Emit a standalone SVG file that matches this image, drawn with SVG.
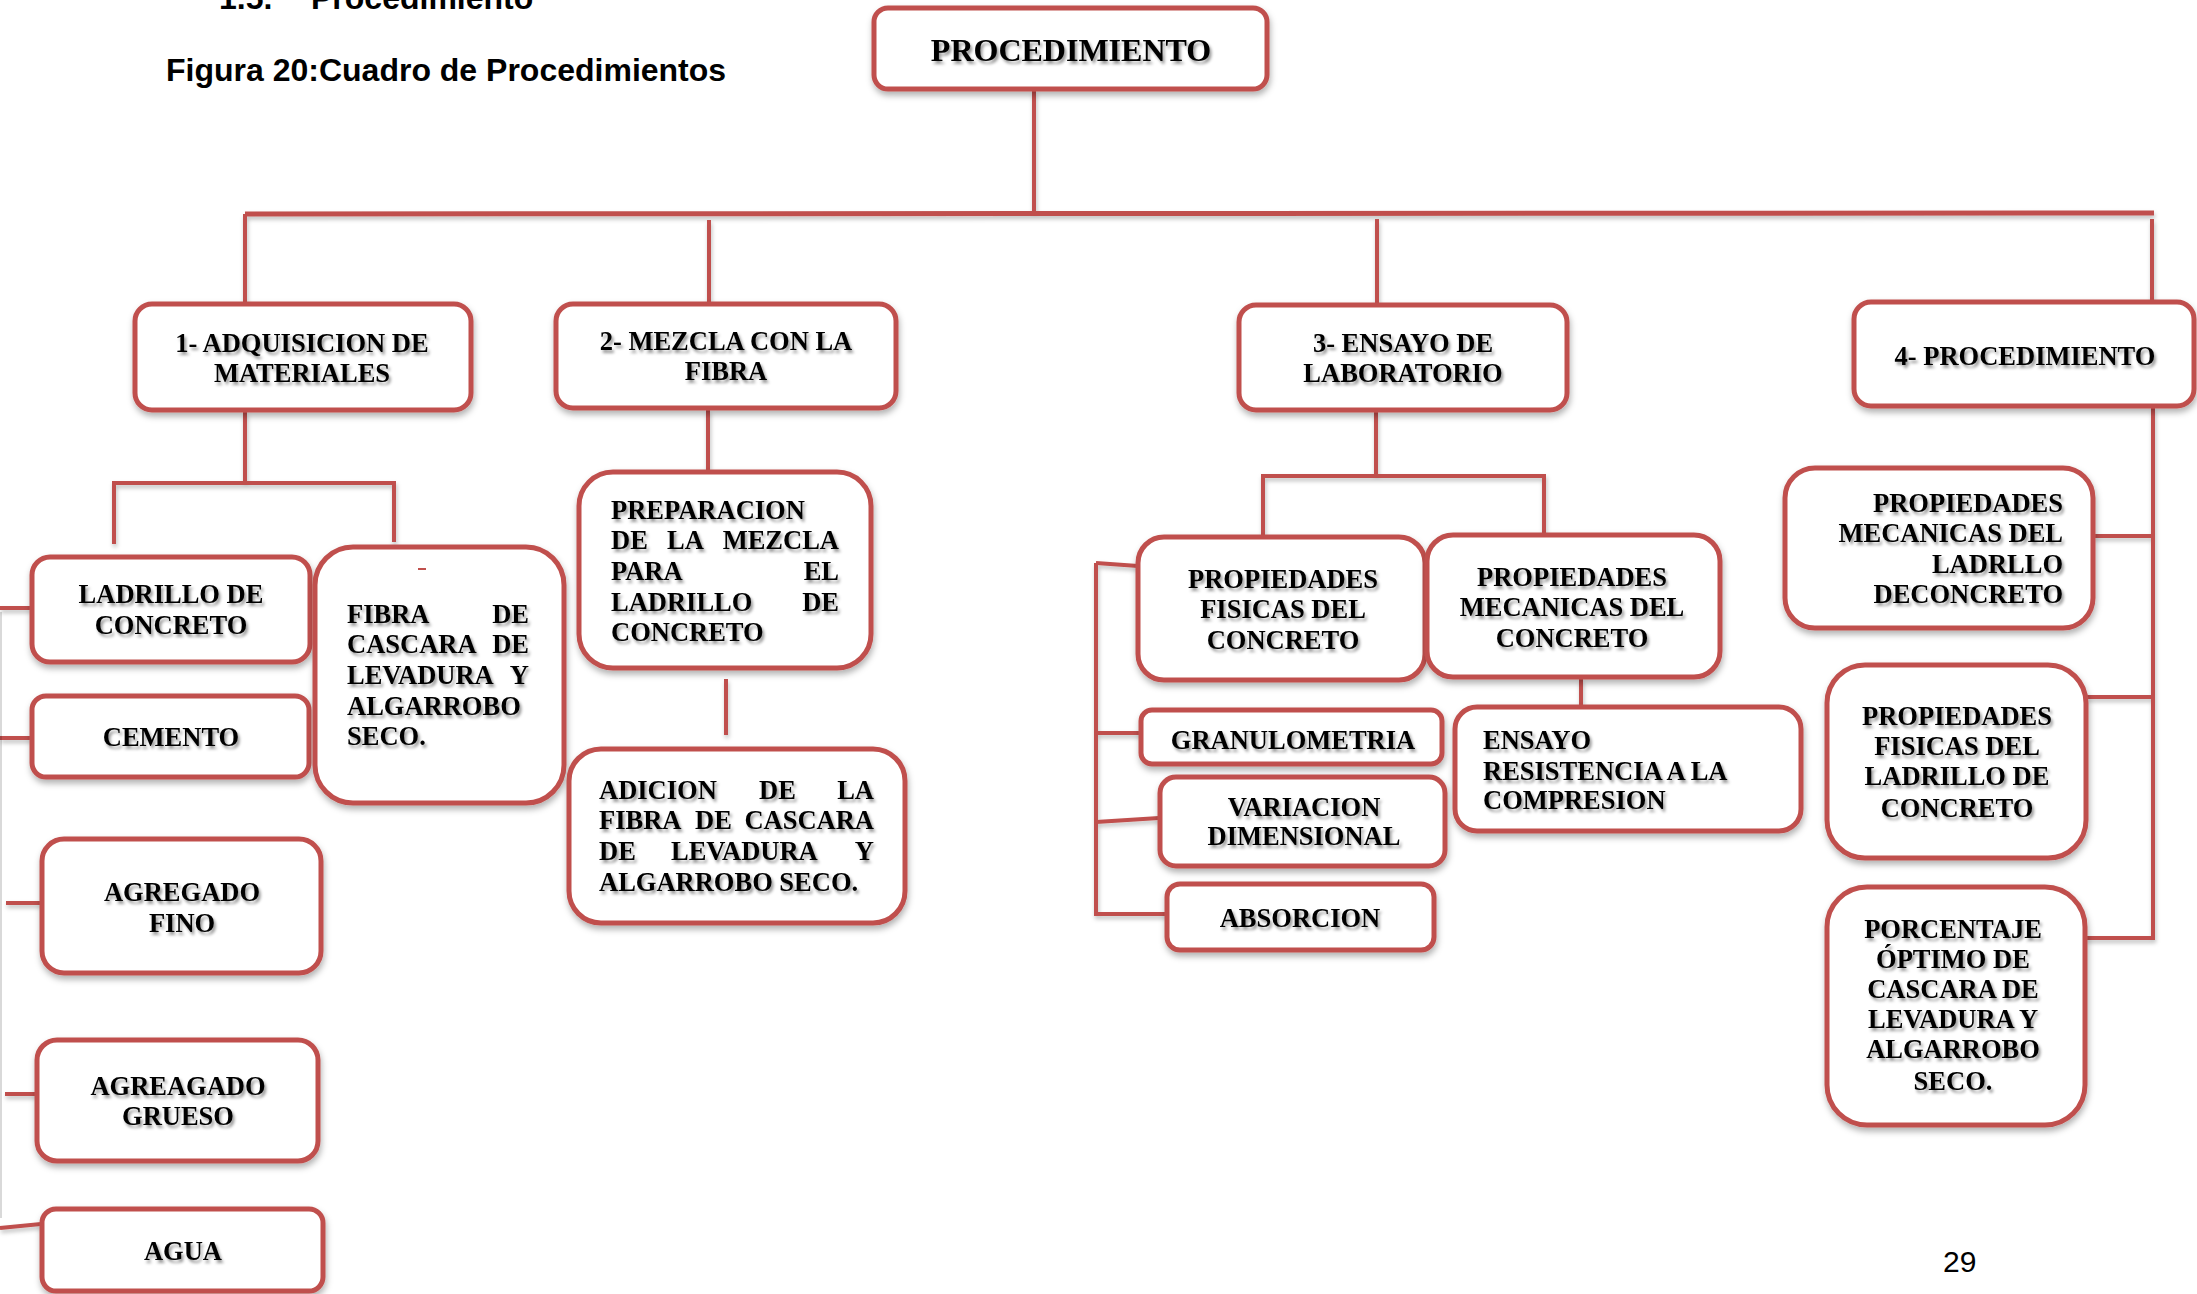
<svg xmlns="http://www.w3.org/2000/svg" width="2197" height="1294" viewBox="0 0 2197 1294">
<defs>
<filter id="bsh" x="-10%" y="-10%" width="130%" height="140%"><feDropShadow dx="1" dy="4" stdDeviation="3" flood-color="#000" flood-opacity="0.3"/></filter>
<filter id="lsh" x="-20%" y="-20%" width="140%" height="140%"><feDropShadow dx="1" dy="3" stdDeviation="2" flood-color="#000" flood-opacity="0.25"/></filter>
<filter id="tsh" x="-10%" y="-20%" width="130%" height="160%"><feDropShadow dx="2" dy="3" stdDeviation="1.6" flood-color="#000" flood-opacity="0.4"/></filter>
</defs>
<style>
.box{fill:#fff;stroke:#C0504D;stroke-width:5;filter:url(#bsh)}
.t{font-family:"Liberation Serif","Times New Roman",serif;font-weight:bold;font-size:26.5px;fill:#000;filter:url(#tsh)}
.c{text-anchor:middle}
.e{text-anchor:end}
.con line,.con polyline{stroke:#C0504D;stroke-width:4;fill:none}
.hd{font-family:"Liberation Sans",Arial,sans-serif;font-weight:bold;font-size:32px;fill:#000}
</style>
<rect width="2197" height="1294" fill="#fff"/>
<text class="hd" x="219" y="9">1.5.</text>
<text class="hd" x="311" y="9">Procedimiento</text>
<text class="hd" x="166" y="81">Figura 20:Cuadro de Procedimientos</text>
<text x="1943" y="1272" style="font-family:'Liberation Sans',Arial,sans-serif;font-size:30px;fill:#000">29</text>

<g id="connectors" class="con" filter="url(#lsh)">
<line x1="1034" y1="91" x2="1034" y2="215"/>
<line x1="245" y1="214" x2="2154" y2="213" style="stroke-width:5"/>
<line x1="245" y1="214" x2="245" y2="302"/>
<line x1="709" y1="220" x2="709" y2="302"/>
<line x1="1377" y1="219" x2="1377" y2="303"/>
<line x1="2152" y1="219" x2="2152" y2="300"/>
<line x1="245" y1="412" x2="245" y2="483"/>
<polyline points="114,544 114,483 394,483 394,542"/>
<line x1="0" y1="608" x2="31" y2="608"/>
<line x1="0" y1="738" x2="31" y2="738"/>
<line x1="6" y1="903" x2="41" y2="903"/>
<line x1="5" y1="1094" x2="36" y2="1094"/>
<line x1="0" y1="1228" x2="41" y2="1224"/>
<line x1="708" y1="410" x2="708" y2="470"/>
<line x1="726" y1="679" x2="726" y2="735"/>
<line x1="1376" y1="412" x2="1376" y2="476"/>
<polyline points="1263,535 1263,476 1544,476 1544,534"/>
<line x1="1096" y1="563" x2="1096" y2="916"/>
<line x1="1096" y1="563" x2="1138" y2="566"/>
<line x1="1096" y1="733" x2="1150" y2="733"/>
<line x1="1096" y1="822" x2="1159" y2="818"/>
<line x1="1096" y1="914" x2="1167" y2="914"/>
<line x1="1581" y1="679" x2="1581" y2="707"/>
<line x1="2153" y1="408" x2="2153" y2="940"/>
<line x1="2093" y1="536" x2="2153" y2="536"/>
<line x1="2086" y1="697" x2="2153" y2="697"/>
<line x1="2085" y1="938" x2="2153" y2="938"/>
</g>
<line x1="1" y1="612" x2="1" y2="1218" stroke="#000" stroke-opacity="0.15" stroke-width="2"/>

<g id="n-procedimiento"><rect class="box" x="874" y="8" width="393" height="81" rx="14"/><text class="t c" x="1071" y="61" style="font-size:32px">PROCEDIMIENTO</text></g>

<g id="n-adquisicion"><rect class="box" x="135" y="304" width="336" height="106" rx="17"/><text class="t c" x="302" y="352">1- ADQUISICION DE</text><text class="t c" x="302" y="382">MATERIALES</text></g>

<g id="n-mezcla"><rect class="box" x="556" y="304" width="340" height="104" rx="17"/><text class="t c" x="726" y="350">2- MEZCLA CON LA</text><text class="t c" x="726" y="380">FIBRA</text></g>

<g id="n-ensayo"><rect class="box" x="1239" y="305" width="328" height="105" rx="17"/><text class="t c" x="1403" y="352">3- ENSAYO DE</text><text class="t c" x="1403" y="382">LABORATORIO</text></g>

<g id="n-proc4"><rect class="box" x="1854" y="302" width="340" height="104" rx="17"/><text class="t c" x="2025" y="365">4- PROCEDIMIENTO</text></g>

<g id="n-ladrillo"><rect class="box" x="32" y="557" width="278" height="105" rx="18"/><text class="t c" x="171" y="603">LADRILLO DE</text><text class="t c" x="171" y="634">CONCRETO</text></g>

<g id="n-cemento"><rect class="box" x="32" y="696" width="277" height="81" rx="14"/><text class="t c" x="171" y="746">CEMENTO</text></g>

<g id="n-fibra"><rect class="box" x="315" y="547" width="249" height="256" rx="38"/>
<line x1="418" y1="569" x2="426" y2="569" stroke="#C0504D" stroke-width="2"/>
<text class="t" x="347" y="623">FIBRA</text><text class="t e" x="529" y="623">DE</text>
<text class="t" x="347" y="653">CASCARA</text><text class="t e" x="529" y="653">DE</text>
<text class="t" x="347" y="684">LEVADURA</text><text class="t e" x="529" y="684">Y</text>
<text class="t" x="347" y="715">ALGARROBO</text>
<text class="t" x="347" y="745">SECO.</text></g>

<g id="n-fino"><rect class="box" x="42" y="839" width="279" height="134" rx="22"/><text class="t c" x="182" y="901">AGREGADO</text><text class="t c" x="182" y="932">FINO</text></g>

<g id="n-grueso"><rect class="box" x="37" y="1040" width="281" height="121" rx="20"/><text class="t c" x="178" y="1095">AGREAGADO</text><text class="t c" x="178" y="1125">GRUESO</text></g>

<g id="n-agua"><rect class="box" x="42" y="1209" width="281" height="82" rx="14"/><text class="t c" x="183" y="1260">AGUA</text></g>

<g id="n-preparacion"><rect class="box" x="579" y="472" width="292" height="196" rx="34"/>
<text class="t" x="611" y="519">PREPARACION</text>
<text class="t" x="611" y="549">DE</text><text class="t" x="667" y="549">LA</text><text class="t e" x="839" y="549">MEZCLA</text>
<text class="t" x="611" y="580">PARA</text><text class="t e" x="839" y="580">EL</text>
<text class="t" x="611" y="611">LADRILLO</text><text class="t e" x="839" y="611">DE</text>
<text class="t" x="611" y="641">CONCRETO</text></g>

<g id="n-adicion"><rect class="box" x="569" y="749" width="336" height="174" rx="32"/>
<text class="t" x="599" y="799">ADICION</text><text class="t" x="759" y="799">DE</text><text class="t e" x="874" y="799">LA</text>
<text class="t" x="599" y="829">FIBRA</text><text class="t" x="695" y="829">DE</text><text class="t e" x="874" y="829">CASCARA</text>
<text class="t" x="599" y="860">DE</text><text class="t" x="671" y="860">LEVADURA</text><text class="t e" x="874" y="860">Y</text>
<text class="t" x="599" y="891">ALGARROBO SECO.</text></g>

<g id="n-fisicas-concreto"><rect class="box" x="1138" y="537" width="287" height="143" rx="26"/><text class="t c" x="1283" y="588">PROPIEDADES</text><text class="t c" x="1283" y="618">FISICAS DEL</text><text class="t c" x="1283" y="649">CONCRETO</text></g>

<g id="n-mecanicas-concreto"><rect class="box" x="1427" y="535" width="293" height="142" rx="26"/><text class="t c" x="1572" y="586">PROPIEDADES</text><text class="t c" x="1572" y="616">MECANICAS DEL</text><text class="t c" x="1572" y="647">CONCRETO</text></g>

<g id="n-granulometria"><rect class="box" x="1141" y="710" width="301" height="54" rx="11"/><text class="t c" x="1293" y="749">GRANULOMETRIA</text></g>

<g id="n-variacion"><rect class="box" x="1160" y="777" width="285" height="89" rx="16"/><text class="t c" x="1304" y="816">VARIACION</text><text class="t c" x="1304" y="845">DIMENSIONAL</text></g>

<g id="n-absorcion"><rect class="box" x="1167" y="884" width="267" height="66" rx="13"/><text class="t c" x="1300" y="927">ABSORCION</text></g>

<g id="n-resistencia"><rect class="box" x="1455" y="707" width="346" height="124" rx="22"/><text class="t" x="1483" y="749">ENSAYO</text><text class="t" x="1483" y="780">RESISTENCIA A LA</text><text class="t" x="1483" y="809">COMPRESION</text></g>

<g id="n-mecanicas-ladrillo"><rect class="box" x="1785" y="468" width="308" height="160" rx="30"/><text class="t e" x="2063" y="512">PROPIEDADES</text><text class="t e" x="2063" y="542">MECANICAS DEL</text><text class="t e" x="2063" y="573">LADRLLO</text><text class="t e" x="2063" y="603">DECONCRETO</text></g>

<g id="n-fisicas-ladrillo"><rect class="box" x="1827" y="665" width="259" height="193" rx="38"/><text class="t c" x="1957" y="725">PROPIEDADES</text><text class="t c" x="1957" y="755">FISICAS DEL</text><text class="t c" x="1957" y="785">LADRILLO DE</text><text class="t c" x="1957" y="817">CONCRETO</text></g>

<g id="n-porcentaje"><rect class="box" x="1827" y="887" width="258" height="238" rx="40"/><text class="t c" x="1953" y="938">PORCENTAJE</text><text class="t c" x="1953" y="968">ÓPTIMO DE</text><text class="t c" x="1953" y="998">CASCARA DE</text><text class="t c" x="1953" y="1028">LEVADURA Y</text><text class="t c" x="1953" y="1058">ALGARROBO</text><text class="t c" x="1953" y="1090">SECO.</text></g>
</svg>
